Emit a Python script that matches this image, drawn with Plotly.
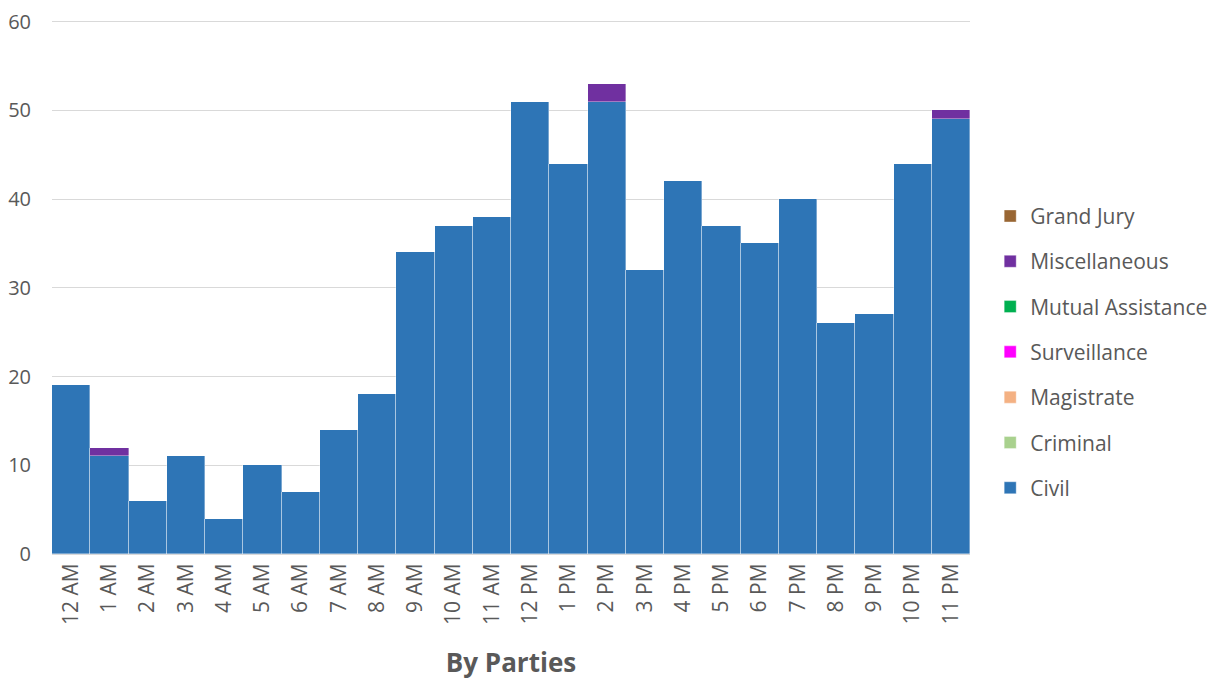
import plotly.graph_objects as go

hours = ["12 AM", "1 AM", "2 AM", "3 AM", "4 AM", "5 AM", "6 AM", "7 AM", "8 AM", "9 AM",
         "10 AM", "11 AM", "12 PM", "1 PM", "2 PM", "3 PM", "4 PM", "5 PM", "6 PM", "7 PM",
         "8 PM", "9 PM", "10 PM", "11 PM"]

civil = [19, 11, 6, 11, 4, 10, 7, 14, 18, 34, 37, 38, 51, 44, 51, 32, 42, 37, 35, 40, 26, 27, 44, 49]
criminal = [0] * 24
magistrate = [0] * 24
surveillance = [0] * 24
mutual_assistance = [0] * 24
miscellaneous = [0, 1, 0, 0, 0, 0, 0, 0, 0, 0, 0, 0, 0, 0, 2, 0, 0, 0, 0, 0, 0, 0, 0, 1]
grand_jury = [0] * 24

y_ticks = [0, 10, 20, 30, 40, 50, 60]

series = [
    ("Civil", civil, "#2E75B6"),
    ("Criminal", criminal, "#A9D18E"),
    ("Magistrate", magistrate, "#F4B183"),
    ("Surveillance", surveillance, "#FF00FF"),
    ("Mutual Assistance", mutual_assistance, "#00B050"),
    ("Miscellaneous", miscellaneous, "#7030A0"),
    ("Grand Jury", grand_jury, "#996633"),
]

fig = go.Figure()
n = len(series)
for i, (name, vals, color) in enumerate(series):
    fig.add_trace(go.Bar(
        x=hours, y=vals, name=name, legendgroup=name, legendrank=1000 + (n - i),
        marker=dict(color=color, line=dict(color="rgba(255,255,255,0.45)", width=0.8)),
    ))

fig.update_layout(
    width=1209, height=675,
    barmode="stack", bargap=0,
    paper_bgcolor="white", plot_bgcolor="white",
    margin=dict(l=44, r=247, t=11.3, b=129, autoexpand=False),
    font=dict(family="Open Sans", size=20, color="#595959"),
    legend=dict(
        traceorder="grouped", tracegroupgap=15,
        x=1.022, xanchor="left", y=0.377, yanchor="middle",
        font=dict(size=21, color="#595959"),
        bgcolor="rgba(0,0,0,0)",
    ),
    xaxis=dict(
        title=dict(text="<b>By Parties</b>", font=dict(size=26, color="#595959"), standoff=29),
        tickangle=-90, showgrid=False, showline=True, linecolor="#d9d9d9", linewidth=1,
        tickfont=dict(size=21, color="#595959"), ticks="",
    ),
    yaxis=dict(
        range=[0, 60.3], tickvals=y_ticks, showgrid=True,
        gridcolor="#d9d9d9", gridwidth=1, ticklabeloverflow="allow",
        zeroline=False, tickfont=dict(size=20, color="#595959"), ticklabelstandoff=20,
    ),
)

fig.write_html("out.html")
